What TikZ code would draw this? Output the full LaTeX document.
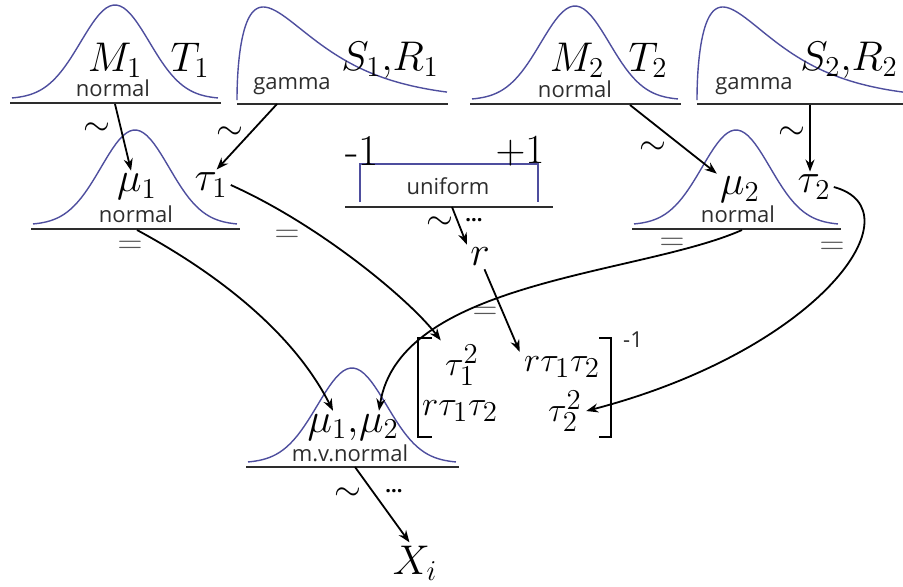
\documentclass[tikz,border=0pt]{standalone}
\usepackage{fontspec}
\setsansfont{Open Sans}
\usetikzlibrary{arrows.meta, positioning}
\definecolor{pdfblue}{RGB}{78,78,158}
\definecolor{inkgray}{RGB}{45,45,45}

% bell curve: centre x, baseline y, half width, height
\newcommand{\normalpdf}[4]{%
  \draw[pdf] plot[domain=-1:1, samples=60] ({#1+#3*\x}, {#2-4-#4*exp(-4.5*\x*\x)});
  \draw[base] ({#1-#3-2},#2) -- ({#1+#3+3},#2);}
% gamma curve: left x, baseline y, width, height
\newcommand{\gammapdf}[4]{%
  \draw[pdf] plot[domain=0:2, samples=80] ({#1+#3*\x*\x/4}, {#2-4-#4*\x*exp(-\x*\x)/0.4289});
  \draw[base] (#1,#2) -- ({#1+#3+1},#2);}

\begin{document}
\begin{tikzpicture}[x=0.5pt,y=-0.5pt,
  pdf/.style={draw=pdfblue, line width=0.7pt},
  base/.style={draw=inkgray, line width=1pt},
  var/.style={font=\fontsize{22}{26}\selectfont, inner sep=1.5pt},
  entry/.style={font=\fontsize{19}{22}\selectfont, inner sep=2pt},
  dname/.style={font=\sffamily\fontsize{11}{13}\selectfont, text=inkgray, inner sep=0pt},
  rel/.style={font=\fontsize{18}{20}\selectfont, inner sep=0pt},
  eqs/.style={font=\fontsize{16}{20}\selectfont, text=inkgray!80, inner sep=0pt},
  dots/.style={font=\sffamily\bfseries\fontsize{10}{12}\selectfont, inner sep=0pt},
  link/.style={-{Stealth[length=6pt,width=4.5pt]}, line width=0.9pt}]
\useasboundingbox (0,0) rectangle (903,586);

% hyperpriors
\normalpdf{115}{103}{103}{94}
\gammapdf{237}{104}{210}{93}
\normalpdf{575}{104}{103}{94}
\gammapdf{697}{104}{206}{93}

% priors
\normalpdf{135}{229}{102}{95}
\normalpdf{736}{229}{102}{95}
\draw[pdf] (360,202) -- (360,164) -- (538,164) -- (538,202);
\draw[base] (345,207) -- (553,207);

% likelihood
\normalpdf{352}{467}{104}{95}

\coordinate (bM1) at (115,104);
\coordinate (bG1) at (277,104);
\coordinate (bM2) at (630,105);
\coordinate (bG2) at (810,105);
\coordinate (bU) at (452,207);
\coordinate (bmu1) at (137,230);
\coordinate (bmu2) at (742,230);
\coordinate (bmv) at (355,467);

\node[var] (M1) at (115,60) {$M_1$};
\node[var] (T1) at (190,60) {$T_1$};
\node[var] (SR1) at (390,60) {$S_1{,}R_1$};
\node[dname] (n1) at (113,88) {normal};
\node[dname] (g1) at (292,86) {gamma};

\node[var] (M2) at (577,60) {$M_2$};
\node[var] (T2) at (648,60) {$T_2$};
\node[var] (SR2) at (849,60) {$S_2{,}R_2$};
\node[dname] (n2) at (575,89) {normal};
\node[dname] (g2) at (754,86) {gamma};

\node[var] (mu1) at (137,187) {$\mu_1$};
\node[var] (tau1) at (211,185) {$\tau_1$};
\node[dname] (n3) at (136,214) {normal};

\node[var] (mu2) at (740,190) {$\mu_2$};
\node[var] (tau2) at (814,187) {$\tau_2$};
\node[dname] (n4) at (738,214) {normal};

\node[var] (lo) at (362,151) {-1};
\node[var] (hi) at (520,151) {$+1$};
\node[dname] (unif) at (448,186) {uniform};
\node[var] (r) at (480,257) {$r$};

% covariance matrix
\node[entry] (s11) at (462,365) {$\tau_1^2$};
\node[entry] (s12) at (562,367) {$r\tau_1\tau_2$};
\node[entry] (s21) at (460,411) {$r\tau_1\tau_2$};
\node[entry] (s22) at (565,411) {$\tau_2^2$};
\node[dname] (inv) at (633,340) {-1};
\draw[line width=1pt] (432,338) -- (418,338) -- (418,437) -- (432,437);
\draw[line width=1pt] (599,338) -- (611,338) -- (611,437) -- (599,437);

\node[var, anchor=base] (mvA) at (333,432) {$\mu_1,$};
\node[var, anchor=base] (mvB) at (379,432) {$\mu_2$};
\node[dname] (n5) at (350,453) {m.v.normal};
\node[var] (Xi) at (415,563) {$X_i$};

% tildes, dots and equals
\node[rel] (t1) at (97,129) {$\sim$};
\node[rel] (t2) at (230,133) {$\sim$};
\node[rel] (t3) at (653,148) {$\sim$};
\node[rel] (t4) at (792,133) {$\sim$};
\node[rel] (t5) at (440,223) {$\sim$};
\node[dots] (d1) at (474,220) {...};
\node[rel] (t6) at (348,494) {$\sim$};
\node[dots] (d2) at (394,491) {...};
\node[eqs] (e1) at (130,247) {$=$};
\node[eqs] (e2) at (287,236) {$=$};
\node[eqs] (e3) at (672,244) {$=$};
\node[eqs] (e4) at (832,248) {$=$};
\node[eqs] (e5) at (485,313) {$=$};

\draw[link] (bM1) -- (mu1.110);
\draw[link] (bG1) -- (tau1.70);
\draw[link] (bM2) -- (mu2.north west);
\draw[link] (bG2) -- (tau2.north -| bG2);
\draw[link] (bU) -- (r.north west);
\draw[link] (bmu1) .. controls (198,263) and (288,322) .. (mvA.north);
\draw[link] (tau1.east) .. controls (320,225) and (410,300) .. (s11.north west);
\draw[link] (bmu2) .. controls (640,275) and (400,280) .. (mvB.north);
\draw[link] (tau2.east) .. controls (920,210) and (820,350) .. (s22.east);
\draw[link] (r.-70) -- (s12.north west);
\draw[link] (bmv) -- (Xi.105);
\end{tikzpicture}
\end{document}
